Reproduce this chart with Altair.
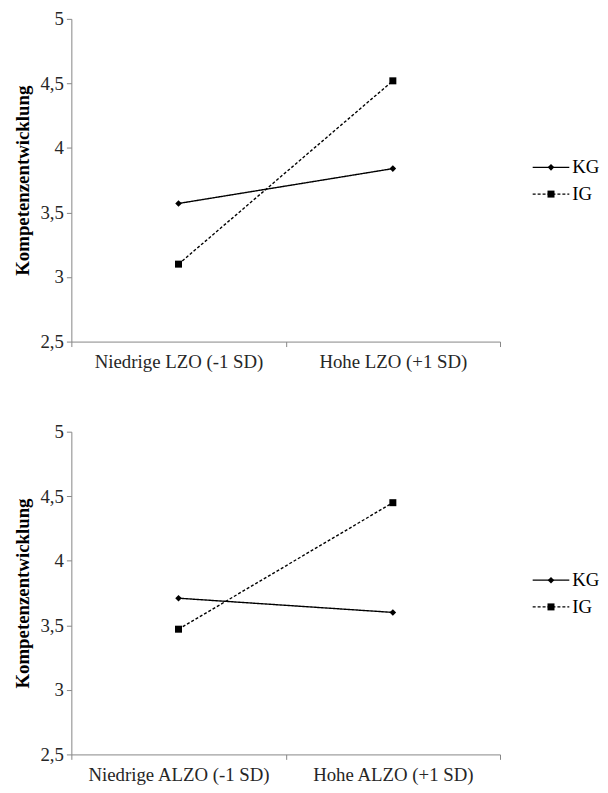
import altair as alt
import pandas as pd

# ---- data ----
groups = ["KG", "IG"]
cats_top = ["Niedrige LZO (-1 SD)", "Hohe LZO (+1 SD)"]
cats_bottom = ["Niedrige ALZO (-1 SD)", "Hohe ALZO (+1 SD)"]
kg_top = [3.57, 3.84]
ig_top = [3.10, 4.52]
kg_bottom = [3.71, 3.60]
ig_bottom = [3.47, 4.45]
y_ticks = [2.5, 3, 3.5, 4, 4.5, 5]
y_title = "Kompetenzentwicklung"

FONT = "Liberation Serif"
AXIS_GREY = "#868686"
LABEL_COL = "#262626"

dash_scale = alt.Scale(domain=groups, range=[[1, 0], [3, 2]])
shape_scale = alt.Scale(domain=groups, range=["diamond", "square"])
size_scale = alt.Scale(domain=groups, range=[44, 50])


def panel(cats, kg, ig):
    df = pd.DataFrame({
        "cat": cats + cats,
        "group": ["KG"] * len(cats) + ["IG"] * len(cats),
        "value": kg + ig,
    })
    x = alt.X("cat:N", sort=cats,
              scale=alt.Scale(type="band", domain=cats, paddingInner=0, paddingOuter=0),
              axis=alt.Axis(title=None, labelAngle=0, tickBand="extent",
                            labelPadding=6, tickSize=5, labelLimit=0,
                            labelFont=FONT, labelFontSize=19, labelColor=LABEL_COL))
    y = alt.Y("value:Q",
              scale=alt.Scale(domain=[2.5, 5], nice=False, zero=False),
              axis=alt.Axis(title=y_title, values=y_ticks,
                            labelExpr="replace(toString(datum.value), '.', ',')",
                            tickSize=5, labelPadding=3, titlePadding=8,
                            labelFont=FONT, labelFontSize=19, labelColor=LABEL_COL,
                            titleFont=FONT, titleFontSize=19, titleFontWeight="bold",
                            titleColor="black"))
    base = alt.Chart(df).encode(x=x, y=y)
    line = base.mark_line(color="black", strokeWidth=1.4).encode(
        strokeDash=alt.StrokeDash("group:N", scale=dash_scale, legend=None),
        detail="group:N",
    )
    pts = base.mark_point(filled=True, color="black", opacity=1).encode(
        shape=alt.Shape("group:N", scale=shape_scale, legend=None),
        size=alt.Size("group:N", scale=size_scale, legend=None),
    )
    return alt.layer(line, pts).properties(width=433, height=326)


def legend_panel():
    ldf = pd.DataFrame({"group": groups, "start": [0, 0], "end": [1, 1], "mid": [0.5, 0.5]})
    xs = alt.Scale(domain=[0, 1], nice=False, zero=False)
    ys = alt.Scale(type="point", domain=groups, range=[150, 177], padding=0)
    base = alt.Chart(ldf).encode(y=alt.Y("group:N", scale=ys, axis=None))
    rule = base.mark_rule(color="black", strokeWidth=1.4).encode(
        x=alt.X("start:Q", scale=xs, axis=None), x2="end:Q",
        strokeDash=alt.StrokeDash("group:N", scale=dash_scale, legend=None),
    )
    pt = base.mark_point(filled=True, color="black", opacity=1).encode(
        x=alt.X("mid:Q", scale=xs, axis=None),
        shape=alt.Shape("group:N", scale=shape_scale, legend=None),
        size=alt.Size("group:N", scale=size_scale, legend=None),
    )
    txt = base.mark_text(align="left", baseline="middle", dx=3, font=FONT,
                         fontSize=19, color="black").encode(
        x=alt.X("end:Q", scale=xs, axis=None), text="group:N")
    return alt.layer(rule, pt, txt).properties(width=37, height=326)


chart = alt.concat(
    panel(cats_top, kg_top, ig_top), legend_panel(),
    panel(cats_bottom, kg_bottom, ig_bottom), legend_panel(),
    columns=2,
    spacing={"row": 91, "column": 33},
    bounds="flush",
).resolve_scale(
    x="independent", y="independent"
).properties(
    padding={"left": 5, "top": -2, "right": 0, "bottom": 5}
).configure(
    font=FONT
).configure_view(
    strokeWidth=0
).configure_axis(
    labelFont=FONT, titleFont=FONT, labelFontSize=19, titleFontSize=19,
    titleFontWeight="bold", titleColor="black", labelColor=LABEL_COL,
    domainColor=AXIS_GREY, tickColor=AXIS_GREY, grid=False,
)

chart.save("out.html", embed_options={"renderer": "svg", "actions": False})
